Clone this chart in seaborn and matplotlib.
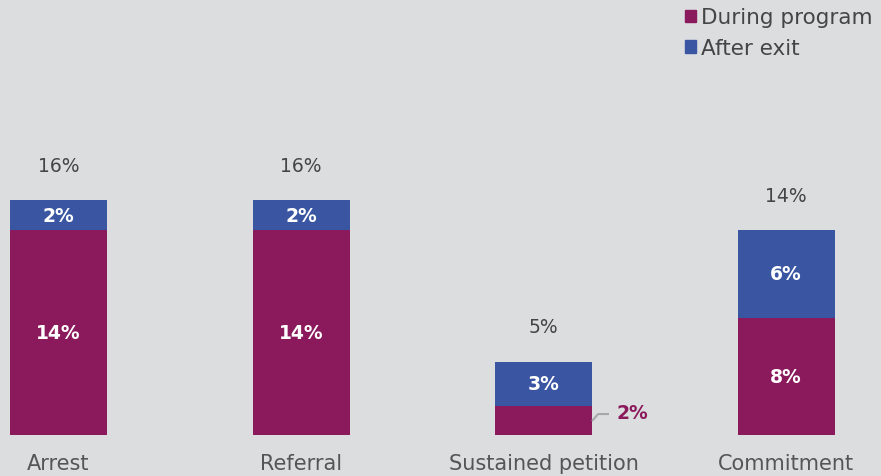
import matplotlib
matplotlib.use("Agg")
import matplotlib.pyplot as plt
from matplotlib.patches import Patch
import seaborn as sns
import pandas as pd

categories = ["Arrest", "Referral", "Sustained petition", "Commitment"]
during_program = [14, 14, 2, 8]
after_exit = [2, 2, 3, 6]
total_labels = ["16%", "16%", "5%", "14%"]

bg = "#DCDDDF"
maroon = "#8A1A5B"
blue = "#3A56A3"

sns.set_theme(style="white")
plt.rcParams["font.family"] = ["DejaVu Sans"]

df = pd.DataFrame({
    "category": categories,
    "during": during_program,
    "after": after_exit,
})
df["total"] = df["during"] + df["after"]

fig = plt.figure(figsize=(8.81, 4.77), dpi=100, facecolor=bg)
ax = fig.add_axes([0, 41 / 477, 1, 436 / 477])
ax.set_facecolor(bg)

bar_w = 0.4
sns.barplot(data=df, x="category", y="total", color=blue, width=bar_w,
            saturation=1, ax=ax, edgecolor="none")
sns.barplot(data=df, x="category", y="during", color=maroon, width=bar_w,
            saturation=1, ax=ax, edgecolor="none")

ax.set_xlim(-58.5 / 242.5, (881 - 58.5) / 242.5)
ax.set_ylim(0, 436 / 14.66)

for i, row in df.iterrows():
    # after-exit segment label
    ax.text(i, row["during"] + row["after"] / 2, f"{row['after']}%", ha="center",
            va="center", color="white", fontsize=13.5, fontweight="bold")
    # total above bar
    ax.annotate(total_labels[i], (i, row["total"]), xytext=(0, 25), textcoords="offset points",
                ha="center", va="center", color="#454545", fontsize=13.5)
    if row["during"] >= 4:
        ax.text(i, row["during"] / 2, f"{row['during']}%", ha="center", va="center",
                color="white", fontsize=13.5, fontweight="bold")
    else:
        # small segment: callout to the right
        x0 = i + bar_w / 2
        y0 = row["during"] / 2 - 0.05
        ax.plot([x0, x0 + 0.025, x0 + 0.07], [y0, y0 + 0.48, y0 + 0.48],
                color="#A8A8A8", lw=1.5, solid_capstyle="butt")
        ax.text(x0 + 0.1, y0 + 0.6, f"{row['during']}%", ha="left", va="center",
                color=maroon, fontsize=13.5, fontweight="bold")

ax.set_xlabel("")
ax.set_ylabel("")
ax.set_yticks([])
ax.tick_params(axis="x", length=0, pad=13, labelsize=15, labelcolor="#555555")
sns.despine(ax=ax, left=True, bottom=True)

handles = [Patch(color=maroon, label="During program"), Patch(color=blue, label="After exit")]
leg = fig.legend(handles=handles, loc="upper left", bbox_to_anchor=(670 / 881, 1.014), frameon=False,
                 handlelength=0.5, handleheight=0.5, handletextpad=0.25, labelspacing=0.5,
                 fontsize=15.5, borderaxespad=0.3)
for t in leg.get_texts():
    t.set_color("#454545")

fig.savefig("out.png", dpi=100, facecolor=bg)
